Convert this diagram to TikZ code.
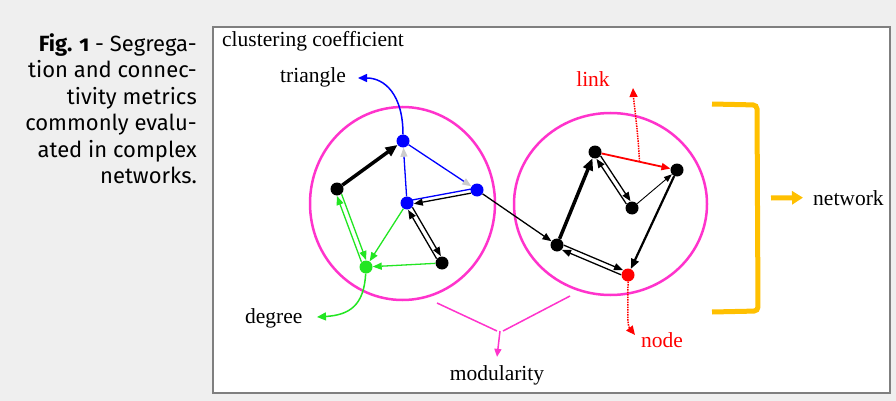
\documentclass[tikz,border=0pt]{standalone}
\usepackage{fontspec}
\setmainfont{Liberation Serif}
\newfontfamily\capfont{Fira Sans}[Numbers=OldStyle]
\usetikzlibrary{arrows.meta,calc}

\definecolor{bggray}{HTML}{EFEFEF}
\definecolor{boxgray}{HTML}{7F7F7F}
\definecolor{pnk}{HTML}{FF33CC}
\definecolor{grn}{HTML}{22E622}
\definecolor{orng}{HTML}{FFC000}

\begin{document}
\begin{tikzpicture}[x=1pt,y=-1pt,font=\fontsize{21.5}{25}\selectfont,
  dot/.style={circle,fill,inner sep=0pt,minimum size=13pt},
  edge/.style={line width=1.3pt,-{Triangle[length=9pt,width=7pt]}},
  pair/.style={edge,shorten >=6.5pt,shorten <=6.5pt},
  lbl/.style={inner sep=0pt}]
  \useasboundingbox (0,0) rectangle (896,401);
  \fill[bggray] (0,0) rectangle (896,401);
  \draw[boxgray,line width=1.5pt,fill=white] (213,27) rectangle (890,393);
  % caption
  \node[lbl,anchor=north east,align=right,font=\capfont\fontsize{22}{26.5}\selectfont] (cap) at (197,33)
    {\textbf{Fig. 1} - Segrega-\\tion and connec-\\tivity metrics\\commonly evalu-\\ated in complex\\networks.};
  % the two modules
  \draw[pnk,line width=2.5pt] (402.5,203.5) ellipse [x radius=92.5,y radius=96.5];
  \draw[pnk,line width=2.5pt] (610.5,204) ellipse [x radius=96.5,y radius=91];
  % left module
  \node[dot,blue] (T) at (403,141) {};
  \node[dot] (L) at (337,189) {};
  \node[dot,blue] (R) at (477,190) {};
  \node[dot,blue] (C) at (407,203) {};
  \node[dot] (B) at (442,263) {};
  \node[dot,grn] (G) at (366,267) {};
  % right module
  \node[dot] (P1) at (595,152) {};
  \node[dot] (P2) at (677,170) {};
  \node[dot] (P3) at (632,208) {};
  \node[dot] (P4) at (557,245) {};
  \node[dot,red] (P5) at (628,275) {};
  % links, left
  \draw[edge,line width=3.5pt,-{Triangle[length=12pt,width=10pt]}] (L) -- (T);
  \draw[blue,line width=1.3pt,-{Triangle[length=9pt,width=7pt,color=gray!40]}] (C) -- (T);
  \draw[blue,line width=1.3pt,-{Triangle[length=9pt,width=7pt,color=gray!40]}] (T) -- (R);
  \draw[blue,line width=1.3pt] ($(C)!2pt!90:(R)$) -- ($(R)!2pt!-90:(C)$);
  \draw[pair] ($(R)!2pt!90:(C)$) -- ($(C)!2pt!-90:(R)$);
  \foreach \a/\b in {C/B,B/C} \draw[pair] ($(\a)!2.5pt!90:(\b)$) -- ($(\b)!2.5pt!-90:(\a)$);
  \foreach \a/\b in {L/G,G/L} \draw[pair,grn] ($(\a)!2.5pt!90:(\b)$) -- ($(\b)!2.5pt!-90:(\a)$);
  \draw[edge,grn] (C) -- (G);
  \draw[edge,grn] (B) -- (G);
  \draw[edge] (R) -- (P4);
  % links, right
  \draw[edge,line width=3.5pt,-{Triangle[length=12pt,width=10pt]}] (P4) -- (P1);
  \draw[edge,red,line width=1.8pt] (P1) -- coordinate[pos=0.55] (lk) (P2);
  \draw[edge,line width=0.9pt,-{Triangle[length=8pt,width=6pt]}] (P3) -- (P2);
  \draw[edge,line width=2.2pt,-{Triangle[length=10pt,width=8pt]}] (P2) -- (P5);
  \foreach \a/\b in {P1/P3,P3/P1,P4/P5,P5/P4} \draw[pair] ($(\a)!2.5pt!90:(\b)$) -- ($(\b)!2.5pt!-90:(\a)$);
  % labels
  \node[lbl,anchor=base west] (cc) at (222,47) {clustering coefficient};
  \node[lbl,anchor=base west] (tri) at (280,83) {triangle};
  \node[lbl,anchor=base west] (deg) at (245,323) {degree};
  \node[lbl,anchor=base] (mod) at (497,380) {modularity};
  \node[lbl,anchor=base,red] (lnk) at (593,87) {link};
  \node[lbl,anchor=base west,red] (nodelbl) at (641,347) {node};
  \node[lbl,anchor=base west] (net) at (813,205) {network};
  \coordinate (tritip) at (358,78);
  \coordinate (degtip) at (317,317);
  \coordinate (lktip) at (633,88);
  \coordinate (ndtip) at (635,335);
  \draw[blue,line width=1.5pt,-{Triangle[length=9pt,width=8pt]}] (T) .. controls (403,95) and (385,78) .. (tritip);
  \draw[grn,line width=1.5pt,-{Triangle[length=9pt,width=8pt]}] (G) .. controls (364,305) and (350,315) .. (degtip);
  \draw[red,line width=1.5pt,densely dotted,-{Triangle[length=9pt,width=8pt]}] (lk) .. controls (638,130) and (634,105) .. (lktip);
  \draw[red,line width=1.5pt,densely dotted,-{Triangle[length=9pt,width=8pt]}] (P5) .. controls (628,312) and (627,325) .. (ndtip);
  % modularity
  \coordinate (mL) at (437,303);
  \coordinate (mR) at (570,296);
  \coordinate (mJ) at (500,331);
  \draw[pnk,line width=1.5pt] (mL) -- ([xshift=-3pt]mJ);
  \draw[pnk,line width=1.5pt] (mR) -- ([xshift=3pt]mJ);
  \draw[pnk,line width=1.5pt,-{Triangle[length=8pt,width=7pt]}] (mJ) -- ([yshift=8pt]mod.north);
  % network bracket
  \draw[orng,line width=5pt,rounded corners=4pt] (712,104) -- (757,105) -- (758,311) -- (712,312);
  \draw[orng,line width=5pt,-{Triangle[length=11pt,width=13pt]}] (771,198) -- ([xshift=-10pt]net.west);
\end{tikzpicture}
\end{document}
